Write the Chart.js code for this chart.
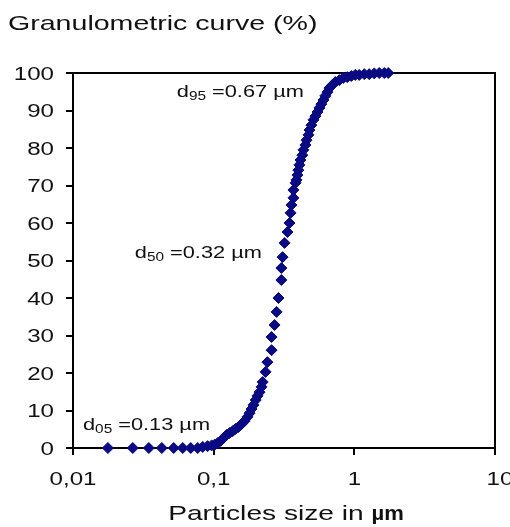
<!DOCTYPE html>
<html>
<head>
<meta charset="utf-8">
<script src="https://cdn.jsdelivr.net/npm/chart.js@4/dist/chart.umd.min.js"></script>
<style>
html,body{margin:0;padding:0;background:#fff;}
#wrap{width:510px;height:527px;}
</style>
</head>
<body>
<div id="wrap"><canvas id="c" width="510" height="527"></canvas></div>
<script>
// ---- data ----
const particleSizes = [0.0177, 0.0266, 0.0346, 0.0428, 0.052, 0.0603, 0.0687, 0.077, 0.0836, 0.0905, 0.0968, 0.1016,
  0.1067, 0.112, 0.1178, 0.1236, 0.1298, 0.1364, 0.143, 0.150, 0.158, 0.166,
  0.174, 0.180, 0.186, 0.192, 0.199, 0.205, 0.212, 0.219, 0.223, 0.234,
  0.241, 0.258, 0.258, 0.271, 0.280, 0.289, 0.303, 0.303, 0.309, 0.319,
  0.335, 0.346, 0.352, 0.357, 0.369, 0.369, 0.382, 0.388, 0.394, 0.400,
  0.407, 0.414, 0.427, 0.435, 0.449, 0.457, 0.472, 0.480, 0.495, 0.512,
  0.529, 0.547, 0.565, 0.583, 0.603, 0.622, 0.644, 0.665, 0.698, 0.733,
  0.783, 0.836, 0.891, 0.952, 1.016, 1.084, 1.178, 1.276, 1.386, 1.503,
  1.633, 1.742];
const cumulativePercent = [0, 0, 0, 0, 0, 0, 0, 0, 0.3, 0.5, 0.7, 0.9,
  1.3, 1.9, 2.7, 3.5, 4.0, 4.5, 5.1, 5.6, 6.4, 7.2,
  8.3, 9.3, 10.4, 11.5, 12.8, 13.9, 14.9, 16.3, 17.6, 20.3,
  22.9, 26.1, 29.6, 32.8, 36.3, 40.0, 44.8, 48.0, 50.9, 54.7,
  57.6, 60.0, 62.7, 64.8, 66.7, 68.8, 70.7, 71.5, 72.8, 74.1,
  75.5, 76.8, 78.1, 79.5, 80.8, 82.1, 83.5, 84.8, 86.1, 87.5,
  88.5, 89.6, 90.7, 91.7, 92.8, 93.9, 94.9, 96.0, 96.8, 97.6,
  98.1, 98.7, 98.9, 99.2, 99.5, 99.5, 99.7, 99.7, 99.9, 100,
  100, 100];
const xTickValues = [0.01, 0.1, 1, 10];
const xTickLabels = ['0,01', '0,1', '1', '10'];
const yTickValues = [0, 10, 20, 30, 40, 50, 60, 70, 80, 90, 100];
const yTickLabels = ['0', '10', '20', '30', '40', '50', '60', '70', '80', '90', '100'];
const chartTitle = 'Granulometric curve (%)';
const xTitle = 'Particles size in ';
const xTitleUnit = 'µm';
const dLabels = [
  {sub: '95', text: ' =0.67 µm'},
  {sub: '50', text: ' =0.32 µm'},
  {sub: '05', text: ' =0.13 µm'}
];

// ---- drawing helpers ----
const FONT = "'Liberation Sans', Arial, sans-serif";
const SX = 1.34; // horizontal stretch of the reference lettering
function txt(ctx, s, x, y, size, align, sx, weight) {
  ctx.save();
  ctx.translate(x, y);
  ctx.scale(sx || SX, 1);
  ctx.font = (weight || '') + ' ' + size + 'px ' + FONT;
  ctx.textAlign = align || 'left';
  ctx.textBaseline = 'alphabetic';
  ctx.fillStyle = '#111';
  ctx.fillText(s, 0, 0);
  const w = ctx.measureText(s).width * (sx || SX);
  ctx.restore();
  return w;
}

const decor = {
  id: 'decor',
  beforeDatasetsDraw(chart) {
    const {ctx, chartArea: a} = chart;
    ctx.save();
    ctx.strokeStyle = '#000';
    ctx.lineWidth = 2;
    ctx.beginPath();
    ctx.moveTo(a.left, a.top);
    ctx.lineTo(a.right, a.top);
    ctx.lineTo(a.right, a.bottom);
    ctx.stroke();
    ctx.restore();
  },
  afterDraw(chart) {
    const {ctx, chartArea: a, scales} = chart;
    const xs = scales.x, ys = scales.y;
    // title
    txt(ctx, chartTitle, 8, 30, 21, 'left', 1.36);
    // y tick labels
    yTickValues.forEach((v, i) => {
      txt(ctx, yTickLabels[i], a.left - 19, ys.getPixelForValue(v) + 6.5, 18, 'right');
    });
    // x tick labels
    xTickValues.forEach((v, i) => {
      txt(ctx, xTickLabels[i], xs.getPixelForValue(v) + (i === 3 ? 5 : 0), a.bottom + 37, 18, 'center');
    });
    // x axis title
    const w1 = (() => { ctx.save(); ctx.font = '21px ' + FONT; const w = ctx.measureText(xTitle).width * SX; ctx.restore(); return w; })();
    const w2 = (() => { ctx.save(); ctx.font = 'bold 21px ' + FONT; const w = ctx.measureText(xTitleUnit).width * 1.05; ctx.restore(); return w; })();
    const cx = (a.left + a.right) / 2 + 2;
    const start = cx - (w1 + w2) / 2;
    txt(ctx, xTitle, start, 520, 21, 'left');
    txt(ctx, xTitleUnit, start + w1, 520, 21, 'left', 1.05, 'bold');
    // d-labels anchored in data coordinates
    const anchors = [[0.0547, 93.6], [0.0275, 50.7], [0.01178, 4.8]];
    dLabels.forEach((d, i) => {
      let x = xs.getPixelForValue(anchors[i][0]);
      const y = ys.getPixelForValue(anchors[i][1]);
      x += txt(ctx, 'd', x, y, 17, 'left', 1.28);
      x += txt(ctx, d.sub, x, y + 3, 12, 'left', 1.28);
      txt(ctx, d.text, x, y, 17, 'left', 1.28);
    });
  }
};

new Chart(document.getElementById('c'), {
  type: 'scatter',
  data: {
    datasets: [{
      data: particleSizes.map((s, i) => ({x: s, y: cumulativePercent[i]})),
      pointStyle: 'rectRot',
      pointRadius: 5.5,
      pointBackgroundColor: '#0a0a82',
      pointBorderColor: '#0a0a82',
      pointBorderWidth: 1,
      showLine: false,
      clip: false
    }]
  },
  options: {
    responsive: false,
    animation: false,
    devicePixelRatio: 1,
    layout: {padding: {top: 73, right: 15, left: 0, bottom: 0}},
    plugins: {legend: {display: false}, tooltip: {enabled: false}, title: {display: false}},
    scales: {
      x: {
        type: 'logarithmic',
        min: 0.01, max: 10,
        afterBuildTicks: s => { s.ticks = xTickValues.map(v => ({value: v})); },
        afterFit: s => { s.height = 79; },
        ticks: {display: false},
        grid: {display: true, drawOnChartArea: false, drawTicks: true, tickLength: 7, color: '#000', lineWidth: 2},
        border: {display: true, color: '#000', width: 2}
      },
      y: {
        type: 'linear',
        min: 0, max: 100,
        afterBuildTicks: s => { s.ticks = yTickValues.map(v => ({value: v})); },
        afterFit: s => { s.width = 73; },
        ticks: {display: false},
        grid: {display: true, drawOnChartArea: false, drawTicks: true, tickLength: 7, color: '#000', lineWidth: 2},
        border: {display: true, color: '#000', width: 2}
      }
    }
  },
  plugins: [decor]
});
</script>
</body>
</html>
